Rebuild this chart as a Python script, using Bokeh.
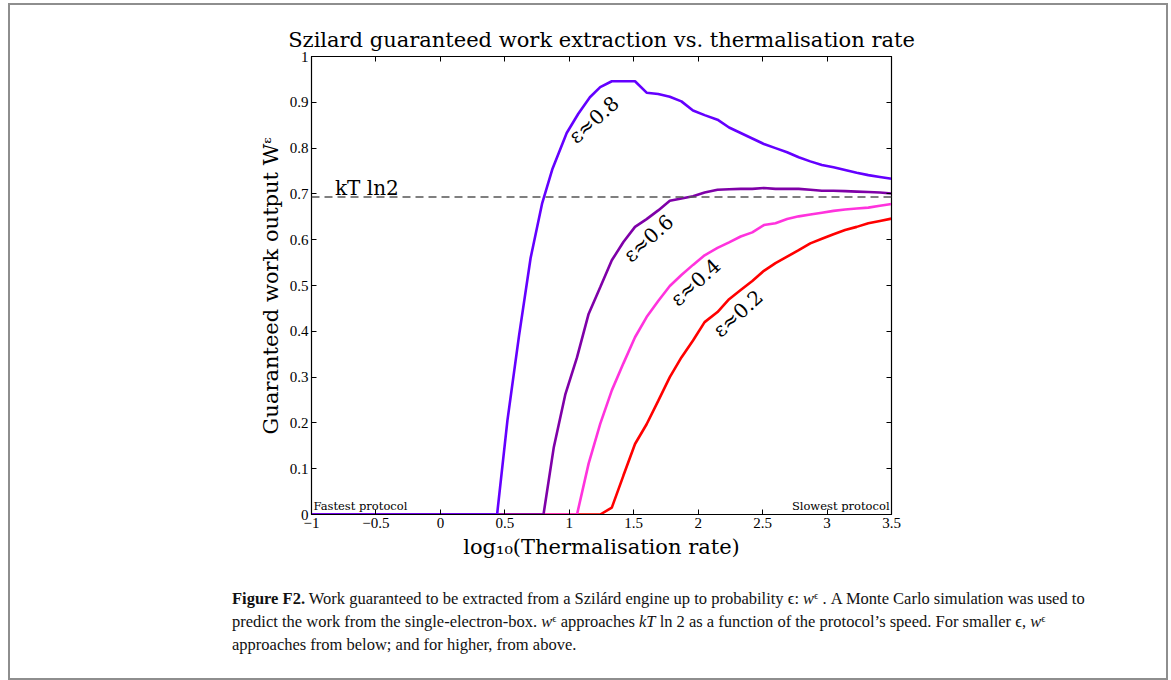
from bokeh.plotting import figure
from bokeh.models import Range1d, FixedTicker, LinearAxis, Label, Span, Div
from bokeh.layouts import column
from bokeh.embed import file_html
from bokeh.resources import INLINE

# ---------------- data ----------------
x_ticks = [-1, -0.5, 0, 0.5, 1, 1.5, 2, 2.5, 3, 3.5]
x_tick_labels = ["\u22121", "\u22120.5", "0", "0.5", "1", "1.5", "2", "2.5", "3", "3.5"]
y_ticks = [0, 0.1, 0.2, 0.3, 0.4, 0.5, 0.6, 0.7, 0.8, 0.9, 1.0]
y_tick_labels = ["0", "0.1", "0.2", "0.3", "0.4", "0.5", "0.6", "0.7", "0.8", "0.9", "1"]

kt_ln2 = 0.693

# epsilon ~ 0.8
log_rate_08 = [-1.0, 0.44, 0.52, 0.61, 0.70, 0.79, 0.87, 0.98, 1.07, 1.16, 1.24, 1.33, 1.42,
               1.51, 1.60, 1.69, 1.78, 1.87, 1.96, 2.05, 2.15, 2.24, 2.33, 2.42, 2.51, 2.60,
               2.69, 2.78, 2.87, 2.96, 3.05, 3.14, 3.23, 3.32, 3.41, 3.50]
work_08 = [0.0, 0.0, 0.205, 0.39, 0.56, 0.68, 0.755, 0.833, 0.875, 0.911, 0.933, 0.946, 0.946,
           0.946, 0.921, 0.918, 0.912, 0.902, 0.882, 0.872, 0.862, 0.845, 0.833, 0.821, 0.809, 0.800,
           0.791, 0.780, 0.771, 0.763, 0.758, 0.752, 0.746, 0.741, 0.737, 0.733]

# epsilon ~ 0.6
log_rate_06 = [-1.0, 0.80, 0.88, 0.97, 1.06, 1.15, 1.24, 1.33, 1.42, 1.51, 1.60, 1.69, 1.78,
               1.87, 1.96, 2.05, 2.15, 2.24, 2.33, 2.42, 2.51, 2.60, 2.69, 2.78, 2.87, 2.96,
               3.05, 3.14, 3.23, 3.32, 3.41, 3.50]
work_06 = [0.0, 0.0, 0.147, 0.263, 0.343, 0.438, 0.496, 0.555, 0.595, 0.628, 0.645, 0.664, 0.685,
           0.690, 0.695, 0.703, 0.709, 0.710, 0.711, 0.711, 0.713, 0.711, 0.711, 0.711, 0.709, 0.707,
           0.707, 0.706, 0.705, 0.704, 0.703, 0.701]

# epsilon ~ 0.4
log_rate_04 = [-1.0, 1.06, 1.15, 1.24, 1.33, 1.42, 1.51, 1.60, 1.69, 1.78, 1.87, 1.96, 2.05,
               2.15, 2.24, 2.33, 2.42, 2.51, 2.60, 2.69, 2.78, 2.87, 2.96, 3.05, 3.14, 3.23,
               3.32, 3.41, 3.50]
work_04 = [0.0, 0.0, 0.111, 0.198, 0.271, 0.330, 0.387, 0.431, 0.466, 0.499, 0.523, 0.545, 0.566,
           0.582, 0.594, 0.607, 0.616, 0.632, 0.636, 0.645, 0.651, 0.655, 0.659, 0.663, 0.666, 0.668,
           0.670, 0.674, 0.678]

# epsilon ~ 0.2
log_rate_02 = [-1.0, 1.24, 1.33, 1.42, 1.51, 1.60, 1.69, 1.78, 1.87, 1.96, 2.05, 2.15, 2.24,
               2.33, 2.42, 2.51, 2.60, 2.69, 2.78, 2.87, 2.96, 3.05, 3.14, 3.23, 3.32, 3.41, 3.50]
work_02 = [0.0, 0.0, 0.015, 0.085, 0.154, 0.197, 0.248, 0.300, 0.343, 0.380, 0.420, 0.442, 0.470,
           0.490, 0.510, 0.532, 0.549, 0.563, 0.577, 0.592, 0.602, 0.612, 0.621, 0.628, 0.636, 0.641,
           0.646]

series = [
    ("\u03b5\u22480.2", log_rate_02, work_02, "#ff0000"),
    ("\u03b5\u22480.4", log_rate_04, work_04, "#ff33dd"),
    ("\u03b5\u22480.6", log_rate_06, work_06, "#7f00a8"),
    ("\u03b5\u22480.8", log_rate_08, work_08, "#6400ff"),
]

SERIF = "DejaVu Serif"
TICKF = "Liberation Serif"

# ---------------- figure ----------------
W, H = 1156, 570
p = figure(width=W, height=H, output_backend="svg", toolbar_location=None,
           x_range=Range1d(-1, 3.5), y_range=Range1d(0, 1),
           min_border_left=301, min_border_right=275, min_border_top=51, min_border_bottom=61,
           title="Szilard guaranteed work extraction vs. thermalisation rate")
p.grid.visible = False
p.background_fill_color = "white"
p.border_fill_color = "white"
p.outline_line_color = "black"
p.outline_line_width = 1.2

p.title.align = "center"
p.title.text_font = SERIF
p.title.text_font_size = "21px"
p.title.text_font_style = "normal"
p.title.text_color = "black"
p.title.standoff = 10

bottom_axis = p.below[0]
left_axis = p.left[0]
top_axis = LinearAxis()
right_axis = LinearAxis()
p.add_layout(top_axis, "above")
p.add_layout(right_axis, "right")

for ax in (bottom_axis, top_axis):
    ax.ticker = FixedTicker(ticks=x_ticks)
    ax.major_label_overrides = {t: l for t, l in zip(x_ticks, x_tick_labels)}
for ax in (left_axis, right_axis):
    ax.ticker = FixedTicker(ticks=y_ticks)
    ax.major_label_overrides = {t: l for t, l in zip(y_ticks, y_tick_labels)}

for ax in (bottom_axis, top_axis, left_axis, right_axis):
    ax.major_tick_in = 5
    ax.major_tick_out = 0
    ax.minor_tick_line_color = None
    ax.axis_line_color = "black"
    ax.major_tick_line_color = "black"
    ax.major_label_text_font = TICKF
    ax.major_label_text_font_size = "15px"
    ax.major_label_text_color = "black"
    ax.major_label_standoff = 3
    ax.axis_label_text_font = SERIF
    ax.axis_label_text_font_size = "21px"
    ax.axis_label_text_font_style = "normal"
    ax.axis_label_text_color = "black"

for ax in (top_axis, right_axis):
    ax.major_label_text_font_size = "0px"
    ax.major_label_text_color = None
    ax.major_label_standoff = 0

bottom_axis.axis_label = "log\u2081\u2080(Thermalisation rate)"
bottom_axis.axis_label_standoff = 4
left_axis.axis_label = "Guaranteed work output W\u1d4b"
left_axis.axis_label_standoff = 4

p.add_layout(Span(location=kt_ln2, dimension="width", line_color="#555555",
                  line_dash="8 5", line_width=1.5))

for name, xs, ys, col in series:
    p.line(xs, ys, line_color=col, line_width=2.6)

p.add_layout(Label(x=-0.818, y=0.687, text="kT ln2", text_font=SERIF,
                   text_font_size="20px", text_color="black", text_baseline="bottom"))

label_pos = {
    "\u03b5\u22480.8": (1.19, 0.862),
    "\u03b5\u22480.6": (1.614, 0.603),
    "\u03b5\u22480.4": (1.979, 0.507),
    "\u03b5\u22480.2": (2.309, 0.439),
}
for name, xs, ys, col in series:
    lx, ly = label_pos[name]
    p.add_layout(Label(x=lx, y=ly, text=name, angle=42, angle_units="deg",
                       text_align="center", text_baseline="middle",
                       text_font=SERIF, text_font_size="20px", text_color="black"))

p.add_layout(Label(x=-0.985, y=0.004, text="Fastest protocol", text_font=SERIF,
                   text_font_size="11.5px", text_color="black", text_baseline="bottom"))
p.add_layout(Label(x=3.485, y=0.004, text="Slowest protocol", text_font=SERIF,
                   text_font_size="11.5px", text_color="black", text_align="right",
                   text_baseline="bottom"))

SUP = '<span style="position:relative; top:-0.45em; font-size:10.5px; line-height:0;">\u03f5</span>'
caption_html = (
    '<div style="font-family: \'Liberation Serif\', serif; font-size: 16.5px; line-height: 23px; '
    'color: #111; padding-left: 217px; padding-top: 7px; white-space: nowrap;">'
    '<b>Figure F2.</b> Work guaranteed to be extracted from a Szil\u00e1rd engine up to probability '
    '\u03f5: <i>w</i>' + SUP + ' . A Monte Carlo simulation was used to<br>'
    'predict the work from the single-electron-box. <i>w</i>' + SUP + ' '
    'approaches <i>kT</i> ln 2 as a function of the protocol\u2019s speed. For smaller \u03f5, '
    '<i>w</i>' + SUP + '<br>'
    'approaches from below; and for higher, from above.'
    '</div>'
)
caption = Div(text=caption_html, width=W, height=103)

layout = column(p, caption, spacing=0, width=1160, height=677,
                styles={"border": "2px solid #8e8e8e", "background-color": "white",
                        "box-sizing": "border-box", "overflow": "hidden",
                        "margin-left": "8px", "margin-top": "3px"})

open("out.html", "w").write(file_html(layout, INLINE))
